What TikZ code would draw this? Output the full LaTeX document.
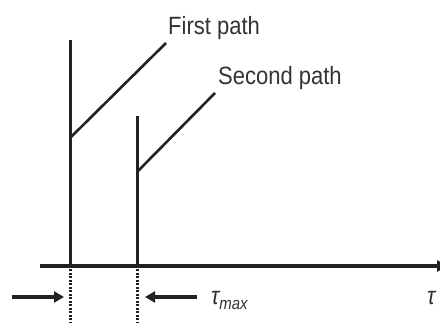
\documentclass[tikz,border=0pt]{standalone}
\usepackage{fontspec}
\setmainfont{Liberation Sans}[FakeStretch=0.88]
\usetikzlibrary{arrows.meta}
\definecolor{ink}{HTML}{222222}
\definecolor{txt}{HTML}{333333}
\begin{document}
\begin{tikzpicture}[x=1pt,y=-1pt,
  line/.style={draw=ink,line width=3pt},
  axisline/.style={draw=ink,line width=3.4pt,-{Triangle[length=11pt,width=11pt]}},
  dotline/.style={draw=ink,line width=3pt,dash pattern=on 2pt off 1.5pt},
  marker/.style={draw=ink,line width=3.4pt,-{Triangle[length=10pt,width=11pt]}},
  lbl/.style={text=txt,font=\fontsize{25}{28}\selectfont,inner sep=0pt,anchor=base west}]
\useasboundingbox (0,0) rectangle (440,323);
% axis
\coordinate (ax0) at (40,266);
\coordinate (ax1) at (448,266);
\draw[axisline] (ax0) -- (ax1);
% path impulses
\coordinate (p1b) at (70,266);
\coordinate (p1t) at (70,40);
\coordinate (p2b) at (137,266);
\coordinate (p2t) at (137,116);
\draw[line] (p1b) -- (p1t);
\draw[line] (p2b) -- (p2t);
% labels
\node[lbl] (l1) at (168,35) {First path};
\node[lbl] (l2) at (218,85) {Second path};
\coordinate (c1) at (70,138);
\coordinate (c2) at (137,172);
\coordinate (e1) at (166,43);
\coordinate (e2) at (215,93);
\draw[line,line width=2.6pt] (c1) -- (e1);
\draw[line,line width=2.6pt] (c2) -- (e2);
% dotted extensions
\coordinate (d1) at (70,323);
\coordinate (d2) at (137,323);
\draw[dotline] (p1b) -- (d1);
\draw[dotline] (p2b) -- (d2);
% delay arrows
\coordinate (a1s) at (12,297);
\coordinate (a1e) at (64,297);
\coordinate (a2s) at (197,297);
\coordinate (a2e) at (145,297);
\draw[marker] (a1s) -- (a1e);
\draw[marker] (a2s) -- (a2e);
\node[lbl] (tm) at (211,305) {\itshape τ\raisebox{-5pt}{\fontsize{17}{18}\selectfont max}};
\node[lbl] (tau) at (427,305) {\itshape τ};
\end{tikzpicture}
\end{document}
